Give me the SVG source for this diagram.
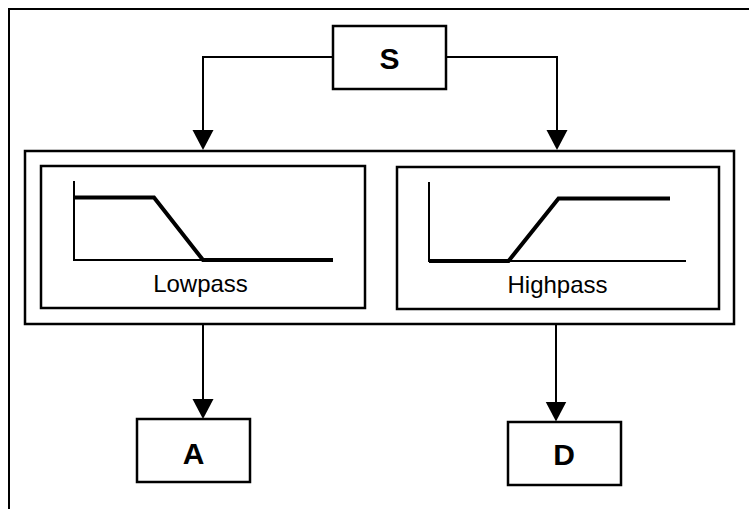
<svg xmlns="http://www.w3.org/2000/svg" width="749" height="509" viewBox="0 0 749 509">
<defs>
<style>
.box{fill:#fff;stroke:#000;stroke-width:2.5}
.frame{fill:none;stroke:#000;stroke-width:2}
.conn{fill:none;stroke:#000;stroke-width:2}
.axis{fill:none;stroke:#000;stroke-width:2}
.resp{fill:none;stroke:#000;stroke-width:4;stroke-linejoin:miter}
.big{font-family:"Liberation Sans",Arial,sans-serif;font-weight:bold;font-size:30px;text-anchor:middle;fill:#000}
.lbl{font-family:"Liberation Sans",Arial,sans-serif;font-size:24px;text-anchor:middle;fill:#000}
</style>
<marker id="arr" markerUnits="userSpaceOnUse" markerWidth="20" markerHeight="22" refX="15" refY="10.5" orient="auto" viewBox="0 0 20 21">
<path d="M0,0 L20,10.5 L0,21 z" fill="#000"/>
</marker>
</defs>
<rect class="frame" x="9" y="9" width="780" height="560"/>
<g id="connectors">
<path class="conn" d="M333,57 H203 V145" marker-end="url(#arr)"/>
<path class="conn" d="M446,57 H557 V145" marker-end="url(#arr)"/>
<path class="conn" d="M203,324 V414" marker-end="url(#arr)"/>
<path class="conn" d="M556,324 V416.5" marker-end="url(#arr)"/>
</g>
<g id="S">
<rect class="box" x="333" y="26" width="113" height="63"/>
<text class="big" x="389.5" y="68.5">S</text>
</g>
<g id="filterbank">
<rect class="box" x="25" y="151" width="709" height="173"/>
</g>
<g id="lowpass">
<rect class="box" x="41" y="166" width="324" height="142"/>
<path class="axis" d="M74,181 V260 H333"/>
<path class="resp" d="M74,197.5 H154 L203,260 H333"/>
<text class="lbl" x="200.5" y="291.5">Lowpass</text>
</g>
<g id="highpass">
<rect class="box" x="397" y="167" width="322" height="142"/>
<path class="axis" d="M429,182 V261 H686"/>
<path class="resp" d="M429,261 H508.5 L558.5,198.5 H670"/>
<text class="lbl" x="557.5" y="293">Highpass</text>
</g>
<g id="A">
<rect class="box" x="137" y="419" width="113" height="63"/>
<text class="big" x="193.5" y="464">A</text>
</g>
<g id="D">
<rect class="box" x="508" y="422" width="113" height="63"/>
<text class="big" x="564" y="464.5">D</text>
</g>
</svg>
